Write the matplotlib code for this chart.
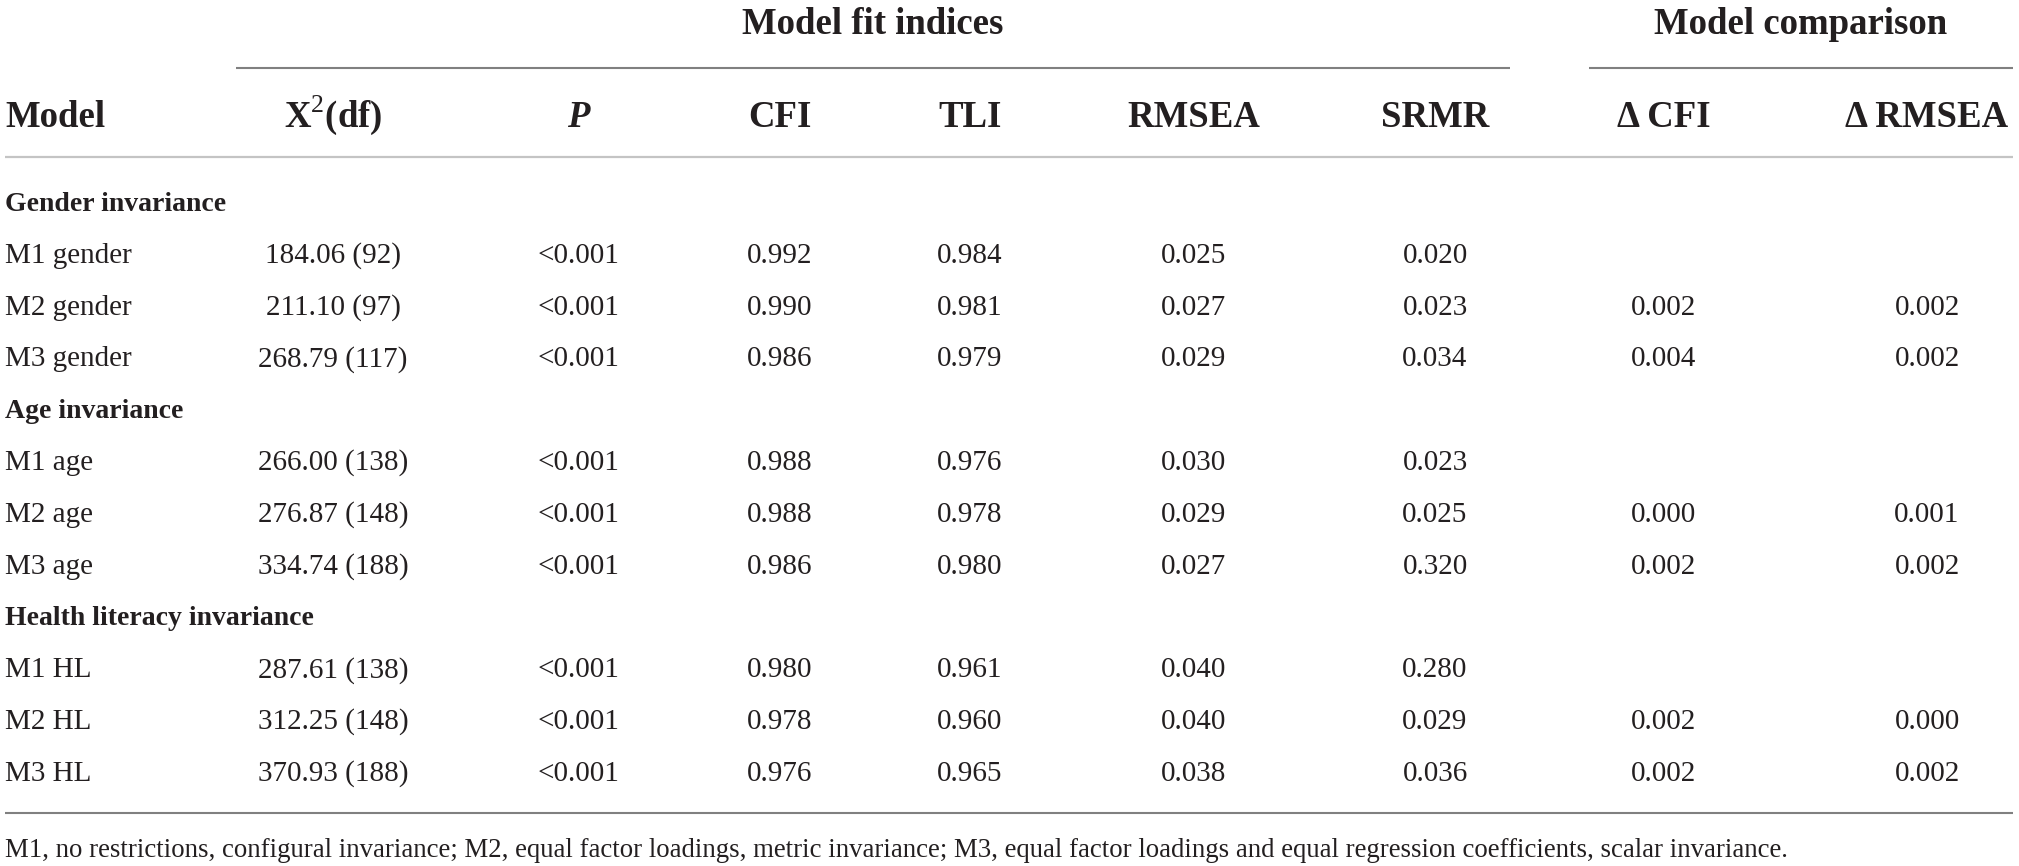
import matplotlib
matplotlib.use("Agg")
import matplotlib.pyplot as plt

plt.rcParams["font.family"] = ["Liberation Serif", "DejaVu Serif"]
plt.rcParams["mathtext.fontset"] = "custom"
plt.rcParams["mathtext.rm"] = "Liberation Serif"
plt.rcParams["mathtext.bf"] = "Liberation Serif:bold"

# ----- Tabellen-Daten ---------------------------------------------------------

HEADERS = ["Model", r"X$^{2}$(df)", "P", "CFI", "TLI", "RMSEA", "SRMR", "Δ CFI", "Δ RMSEA"]
GROUP_FIT = "Model fit indices"
GROUP_CMP = "Model comparison"

SECTIONS = ["Gender invariance", "Age invariance", "Health literacy invariance"]

MODELS = [
    ["M1 gender", "M2 gender", "M3 gender"],
    ["M1 age", "M2 age", "M3 age"],
    ["M1 HL", "M2 HL", "M3 HL"],
]
CHI2 = [
    ["184.06 (92)", "211.10 (97)", "268.79 (117)"],
    ["266.00 (138)", "276.87 (148)", "334.74 (188)"],
    ["287.61 (138)", "312.25 (148)", "370.93 (188)"],
]
P_VAL = [["<0.001"] * 3] * 3
CFI = [["0.992", "0.990", "0.986"], ["0.988", "0.988", "0.986"], ["0.980", "0.978", "0.976"]]
TLI = [["0.984", "0.981", "0.979"], ["0.976", "0.978", "0.980"], ["0.961", "0.960", "0.965"]]
RMSEA = [["0.025", "0.027", "0.029"], ["0.030", "0.029", "0.027"], ["0.040", "0.040", "0.038"]]
SRMR = [["0.020", "0.023", "0.034"], ["0.023", "0.025", "0.320"], ["0.280", "0.029", "0.036"]]
D_CFI = [["", "0.002", "0.004"], ["", "0.000", "0.002"], ["", "0.002", "0.002"]]
D_RMSEA = [["", "0.002", "0.002"], ["", "0.001", "0.002"], ["", "0.000", "0.002"]]

FOOTNOTE = ("M1, no restrictions, configural invariance; M2, equal factor loadings, "
            "metric invariance; M3, equal factor loadings and equal regression "
            "coefficients, scalar invariance.")

# ----- Layout (Pixel) ---------------------------------------------------------

W, H = 2019, 866
TXT = "#231f20"
COL_X = [5, 333, 578, 780, 970, 1194, 1435, 1664, 1927]
ROW0, STEP = 202, 51.8

fig = plt.figure(figsize=(W / 100, H / 100), dpi=100)
ax = fig.add_axes([0, 0, 1, 1])
ax.set_xlim(0, W)
ax.set_ylim(H, 0)
ax.axis("off")

# Gruppenüberschriften + Linien
ax.text(873, 34, GROUP_FIT, ha="center", va="baseline", fontsize=26.5,
        fontweight="bold", color=TXT)
ax.text(1801, 34, GROUP_CMP, ha="center", va="baseline", fontsize=26.5,
        fontweight="bold", color=TXT)
ax.hlines(68, 236, 1510, color="#808080", lw=1.5)
ax.hlines(68, 1589, 2013, color="#808080", lw=1.5)

# Spaltenköpfe
for i, h in enumerate(HEADERS):
    ha = "left" if i == 0 else "center"
    style = "italic" if h == "P" else "normal"
    ax.text(COL_X[i], 127, h, ha=ha, va="baseline", fontsize=26.5,
            fontweight="bold", fontstyle=style, color=TXT)
ax.hlines(157, 5, 2013, color="#c4c4c4", lw=1.6)

# Zeilen
cols = [CHI2, P_VAL, CFI, TLI, RMSEA, SRMR, D_CFI, D_RMSEA]
r = 0
for s, sec in enumerate(SECTIONS):
    y = ROW0 + r * STEP
    ax.text(COL_X[0], y + 9, sec, ha="left", va="baseline", fontsize=20,
            fontweight="bold", color=TXT)
    r += 1
    for k in range(3):
        y = ROW0 + r * STEP
        ax.text(COL_X[0], y + 9, MODELS[s][k], ha="left", va="baseline",
                fontsize=21, color=TXT)
        for c, col in enumerate(cols):
            val = col[s][k]
            if val:
                ax.text(COL_X[c + 1], y + 9, val, ha="center", va="baseline",
                        fontsize=21, color=TXT)
        r += 1

ax.hlines(813, 5, 2013, color="#808080", lw=1.5)

# Fußnote auf Zielbreite einpassen
fn = ax.text(5, 857, FOOTNOTE, ha="left", va="baseline", fontsize=16, color=TXT)
renderer = fig.canvas.get_renderer()
width = fn.get_window_extent(renderer).width
fn.set_fontsize(16 * 1782 / width)

fig.savefig("out.png", dpi=100)
